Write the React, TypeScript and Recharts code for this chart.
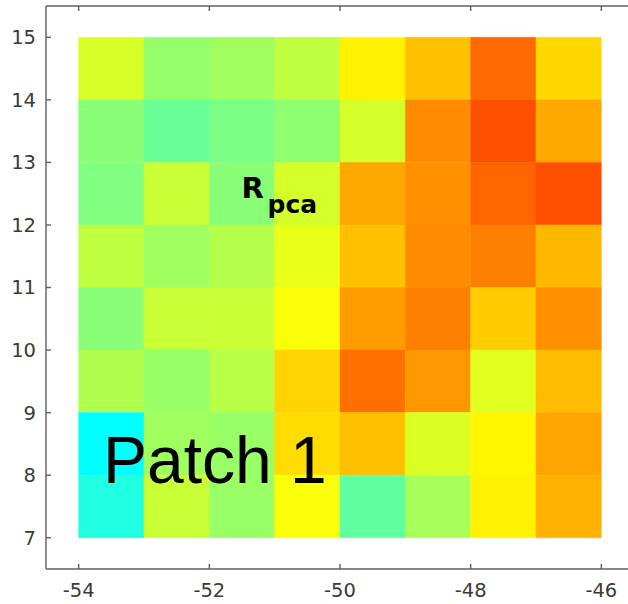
import React from "react";
import {
  ComposedChart,
  XAxis,
  YAxis,
  ReferenceArea,
  Scatter,
} from "recharts";

// Cell left edges (longitude) and bottom edges (latitude)
const xEdges = [-54, -53, -52, -51, -50, -49, -48, -47];
const yEdges = [14, 13, 12, 11, 10, 9, 8, 7];

// R_pca values on the jet colour scale (0..1), rows from top (14-15) to bottom (7-8)
const row15 = [0.587, 0.52, 0.532, 0.5625, 0.6375, 0.687, 0.771, 0.663];
const row14 = [0.508, 0.479, 0.4945, 0.514, 0.583, 0.7375, 0.7965, 0.71];
const row13 = [0.5, 0.571, 0.508, 0.583, 0.71, 0.734, 0.777, 0.7965];
const row12 = [0.563, 0.532, 0.551, 0.6025, 0.687, 0.7375, 0.75, 0.695];
const row11 = [0.508, 0.571, 0.571, 0.618, 0.7225, 0.75, 0.675, 0.734];
const row10 = [0.5475, 0.524, 0.555, 0.6675, 0.765, 0.726, 0.5945, 0.691];
const row9 = [0.375, 0.532, 0.524, 0.659, 0.687, 0.591, 0.634, 0.714];
const row8 = [0.406, 0.571, 0.524, 0.618, 0.469, 0.54, 0.6375, 0.7025];
const rows = [row15, row14, row13, row12, row11, row10, row9, row8];

const xTicks = [-54, -52, -50, -48, -46];
const yTicks = [7, 8, 9, 10, 11, 12, 13, 14, 15];

const clamp = (v: number) => Math.max(0, Math.min(1, v));
const jet = (v: number) => {
  const r = clamp(1.5 - Math.abs(4 * v - 3));
  const g = clamp(1.5 - Math.abs(4 * v - 2));
  const b = clamp(1.5 - Math.abs(4 * v - 1));
  const h = (c: number) => Math.round(c * 255).toString(16).padStart(2, "0");
  return `#${h(r)}${h(g)}${h(b)}`;
};

const cells = rows.flatMap((row, ri) =>
  row.map((v, ci) => ({
    x1: xEdges[ci],
    x2: xEdges[ci] + 1,
    y1: yEdges[ri],
    y2: yEdges[ri] + 1,
    cx: xEdges[ci] + 0.5,
    cy: yEdges[ri] + 0.5,
    v,
  }))
);

const axisColor = "#5f5f5f";
const tickFont = { fontFamily: "DejaVu Sans", fontSize: 19.5, fill: "#3a3a3a" };
const noLabel = () => <g />;

export default function App() {
  return (
    <div
      style={{
        position: "absolute",
        left: 0,
        top: 0,
        width: 628,
        height: 604,
        overflow: "hidden",
        background: "#fff",
      }}
    >
      <ComposedChart
        width={640}
        height={604}
        margin={{ top: 0, right: 0, bottom: 0, left: 0 }}
        data={cells}
      >
        <XAxis
          xAxisId="bottom"
          dataKey="cx"
          type="number"
          orientation="bottom"
          domain={[-54.5, -45.5]}
          ticks={xTicks}
          height={35}
          tickSize={-5}
          tickMargin={19.5}
          stroke={axisColor}
          strokeWidth={1.4}
          tick={tickFont}
          allowDataOverflow
        />
        <XAxis
          xAxisId="top"
          dataKey="cx"
          type="number"
          orientation="top"
          domain={[-54.5, -45.5]}
          ticks={xTicks}
          height={6}
          tickSize={-5}
          stroke={axisColor}
          strokeWidth={1.4}
          tick={noLabel}
          allowDataOverflow
        />
        <YAxis
          yAxisId="left"
          dataKey="cy"
          type="number"
          orientation="left"
          domain={[6.5, 15.5]}
          ticks={yTicks}
          width={46}
          tickSize={-5}
          tickMargin={15}
          stroke={axisColor}
          strokeWidth={1.4}
          tick={tickFont}
          allowDataOverflow
        />
        <YAxis
          yAxisId="right"
          dataKey="cy"
          type="number"
          orientation="right"
          domain={[6.5, 15.5]}
          ticks={yTicks}
          width={6}
          tickSize={-5}
          stroke={axisColor}
          strokeWidth={1.4}
          tick={noLabel}
          allowDataOverflow
        />
        {cells.map((c, i) => (
          <ReferenceArea
            key={i}
            xAxisId="bottom"
            yAxisId="left"
            x1={c.x1}
            x2={c.x2}
            y1={c.y1}
            y2={c.y2}
            fill={jet(c.v)}
            fillOpacity={1}
            stroke={jet(c.v)}
            strokeWidth={0.5}
            ifOverflow="visible"
          />
        ))}
        <Scatter
          xAxisId="bottom"
          yAxisId="left"
          data={cells}
          dataKey="cy"
          isAnimationActive={false}
          shape={() => <g />}
        />
      </ComposedChart>
      <svg
        width={628}
        height={604}
        style={{ position: "absolute", left: 0, top: 0, pointerEvents: "none" }}
      >
        <text fontFamily="DejaVu Sans" fontWeight="bold" fill="#000">
          <tspan x={241.5} y={197.7} fontSize={29}>R</tspan>
          <tspan x={267.5} y={213.3} fontSize={25}>pca</tspan>
        </text>
        <text
          x={103}
          y={483.3}
          fontFamily="Liberation Sans"
          fontSize={66}
          fill="#000"
        >
          Patch 1
        </text>
      </svg>
    </div>
  );
}
